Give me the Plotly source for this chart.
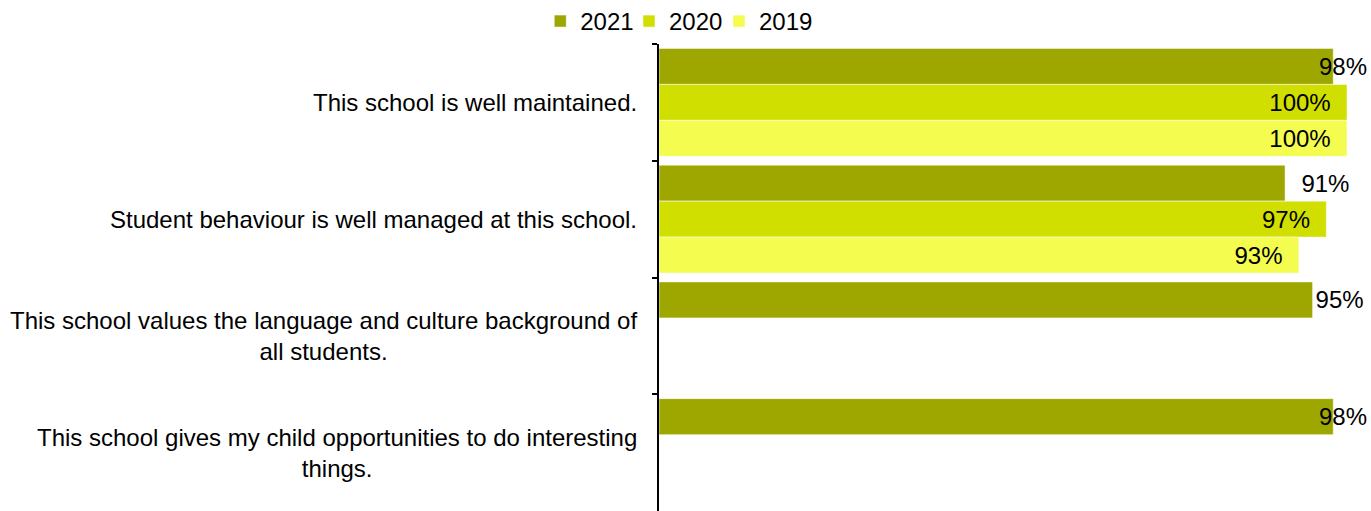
import plotly.graph_objects as go

# survey statements, top to bottom
statements = [
    "This school is well maintained.",
    "Student behaviour is well managed at this school.",
    "This school values the language and culture background of<br>all students.",
    "This school gives my child opportunities to do interesting<br>things.",
]

# percent agreement per year (None = not asked that year)
pct_2021 = [98, 91, 95, 98]
pct_2020 = [100, 97, None, None]
pct_2019 = [100, 93, None, None]

years = ["2021", "2020", "2019"]
series = [pct_2021, pct_2020, pct_2019]
colors = ["#9ea700", "#d1df00", "#f4fc4f"]

cat_ids = ["q1", "q2", "q3", "q4"]
FONT_SIZE = 24
NBSP = "\u00a0"

# one small legend per year so the entries sit where Excel put them
legend_ids = ["legend", "legend2", "legend3"]
legend_x = [-0.1726, -0.0436, 0.0872]


def bar_label(year, v):
    """Return (text, position) in the spirit of Excel's 'outside end' labels."""
    if v is None:
        return "", "none"
    if year == "2021":
        if v >= 98:
            # straddles the bar end; drawn as an annotation below
            return "", "none"
        if v < 93:
            return NBSP * 2 + f"{v}%", "outside"
        return f"{v}%", "outside"
    # pushed inside the bar, with Excel's inner padding
    return f"{v}%" + NBSP * 2, "inside"


fig = go.Figure()

for year, vals, col, lid in zip(years, series, colors, legend_ids):
    labels = [bar_label(year, v) for v in vals]
    fig.add_trace(go.Bar(
        name=year,
        legend=lid,
        showlegend=True,
        y=cat_ids,
        x=vals,
        orientation="h",
        marker_color=col,
        marker_line_color="rgba(255,255,255,0.5)",
        marker_line_width=1,
        text=[t for t, _ in labels],
        textposition=[p for _, p in labels],
        insidetextanchor="end",
        constraintext="none",
        textfont=dict(size=FONT_SIZE, color="black"),
        cliponaxis=False,
    ))

# 98% labels that overlap the bar end
for cid, v in zip(cat_ids, pct_2021):
    if v >= 98:
        fig.add_annotation(
            x=v, xref="x", y=cid, yref="y",
            text=f"{v}%", showarrow=False,
            xanchor="center", xshift=10, yshift=36,
            font=dict(size=FONT_SIZE, color="black"),
        )

# category labels as centred multi-line annotations
for cid, label in zip(cat_ids, statements):
    fig.add_annotation(
        x=0, xref="paper", y=cid, yref="y",
        text=label, showarrow=False,
        xanchor="right", align="center",
        xshift=-20,
        font=dict(size=FONT_SIZE, color="black"),
    )

n = len(cat_ids)
boundaries = [i - 0.5 for i in range(n + 1)]

legend_style = dict(
    orientation="h",
    y=1.0, yanchor="bottom",
    xanchor="left",
    font=dict(size=FONT_SIZE),
    itemwidth=30,
    bgcolor="rgba(0,0,0,0)",
)

fig.update_layout(
    width=1371,
    height=511,
    margin=dict(l=659, r=24, t=44, b=0, autoexpand=False),
    showlegend=True,
    barmode="group",
    bargap=0.075,
    bargroupgap=0,
    plot_bgcolor="white",
    paper_bgcolor="white",
    font=dict(family="Liberation Sans, Arial, sans-serif", size=FONT_SIZE, color="black"),
    legend=dict(x=legend_x[0], **legend_style),
    legend2=dict(x=legend_x[1], **legend_style),
    legend3=dict(x=legend_x[2], **legend_style),
    xaxis=dict(range=[0, 100], visible=False),
    yaxis=dict(
        autorange="reversed",
        showticklabels=False,
        showline=True,
        linecolor="black",
        linewidth=2,
        ticks="outside",
        ticklen=5,
        tickwidth=2,
        tickcolor="black",
        tickson="boundaries",
        showgrid=False,
        zeroline=False,
    ),
    # second axis only for the inner half of the crossing tick marks
    yaxis2=dict(
        overlaying="y",
        anchor="x",
        side="left",
        range=[n - 0.5, -0.5],
        tickmode="array",
        tickvals=boundaries,
        showticklabels=False,
        ticks="inside",
        ticklen=5,
        tickwidth=2,
        tickcolor="black",
        showline=False,
        showgrid=False,
        zeroline=False,
    ),
)

# drop the default 8px page margin so the chart fills the window exactly
fig.write_html(
    "out.html",
    config={"displayModeBar": False},
    post_script="document.body.style.margin='0';document.body.style.overflow='hidden';",
)
